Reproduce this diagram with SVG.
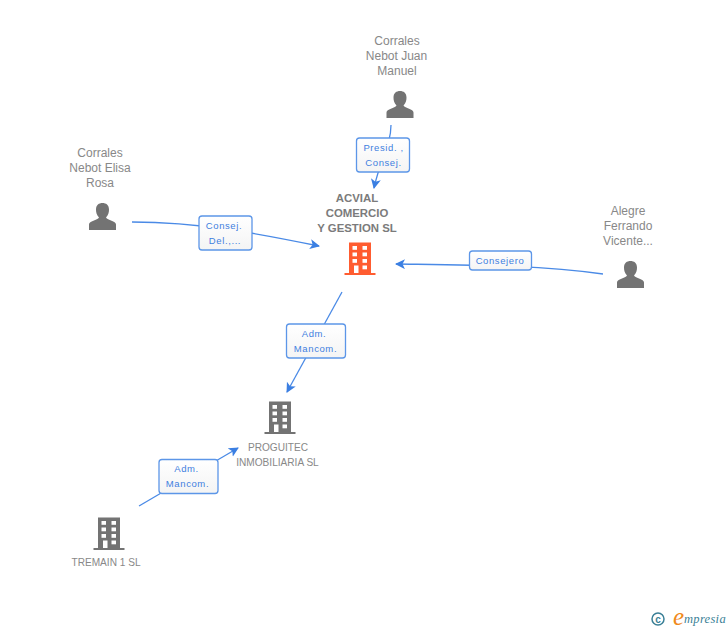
<svg xmlns="http://www.w3.org/2000/svg" width="728" height="630" viewBox="0 0 728 630">
<style>
text{font-family:"Liberation Sans",Arial,sans-serif;font-size:12px;fill:#888;text-anchor:middle}
.n{font-size:10.1px}
.b{font-size:11.4px;font-weight:bold;fill:#7b7b7b}
.l{font-size:9.5px;fill:#3f7fe0;letter-spacing:.6px}
.box{stroke:#5c96e8;stroke-width:1.3;fill:url(#f)}
.c{fill:none;stroke:#4a8ae6;stroke-width:1.3;marker-end:url(#a)}
.g{fill:#737373}.o{fill:#ff5c30}.w{fill:#fff}
</style>
<defs>
<marker id="a" markerUnits="userSpaceOnUse" markerWidth="12" markerHeight="12" refX="9" refY="5" orient="auto"><path d="M0 0L10 5L0 10L2.500 5Z" fill="#3b7fe2"/></marker>
<linearGradient id="f" x1="0" y1="0" x2="0" y2="1"><stop offset="0" stop-color="#fff"/><stop offset="1" stop-color="#f4f4f4"/></linearGradient>
<path id="p" d="M-13.500 14V8.500C-13.500 5 -5 4 -3.500 1.500C-6 -1 -6.500 -4 -6.500 -6.500C-6.500 -11 -3.500 -13 0 -13C3.500 -13 6.500 -11 6.500 -6.500C6.500 -4 6 -1 3.500 1.500C5 4 13.500 5 13.500 8.500V14Z"/>
<g id="t">
<path d="M-11 -15.500H11V15H15.500V17H-15.500V15H-11Z"/>
<g class="w"><rect x="-7.500" y="-12" width="4.500" height="3.800"/><rect x="2.500" y="-12" width="4.500" height="3.800"/><rect x="-7.500" y="-5.500" width="4.500" height="3.800"/><rect x="2.500" y="-5.500" width="4.500" height="3.800"/><rect x="-7.500" y="1" width="4.500" height="3.800"/><rect x="2.500" y="1" width="4.500" height="3.800"/><rect x="-6" y="7.500" width="4.500" height="7.500"/><rect x="2.500" y="7.500" width="4.500" height="3.800"/></g>
</g>
</defs>
<g id="connectors">
<path class="c" d="M391 125C391 145 380 160 374 188"/>
<path class="c" d="M132 222C200 222 260 234 319 246"/>
<path class="c" d="M603 274C540 265 470 265 396 264"/>
<path class="c" d="M342 292L287 392"/>
<path class="c" d="M139 506L238 448"/>
</g>
<g id="label-presid"><rect class="box" x="356.500" y="138" width="53" height="34" rx="3"/><text class="l" x="383.500" y="151">Presid. ,</text><text class="l" x="383.500" y="166">Consej.</text></g>
<g id="label-consej"><rect class="box" x="199" y="216" width="53" height="34" rx="3"/><text class="l" x="224" y="229">Consej.</text><text class="l" x="225" y="244">Del.,...</text></g>
<g id="label-consejero"><rect class="box" x="469.500" y="251" width="62" height="19" rx="3"/><text class="l" x="500" y="264">Consejero</text></g>
<g id="label-adm1"><rect class="box" x="286.500" y="324" width="59" height="34" rx="3"/><text class="l" x="314" y="337">Adm.</text><text class="l" x="315.500" y="352">Mancom.</text></g>
<g id="label-adm2"><rect class="box" x="159" y="459.500" width="59" height="34" rx="3"/><text class="l" x="186.500" y="472">Adm.</text><text class="l" x="187.500" y="487">Mancom.</text></g>
<g id="node-juan"><text x="397" y="45">Corrales</text><text x="396.500" y="60">Nebot Juan</text><text x="397" y="75">Manuel</text><use href="#p" class="g" x="400" y="104"/></g>
<g id="node-elisa"><text x="100" y="157">Corrales</text><text x="100" y="172">Nebot Elisa</text><text x="100" y="187">Rosa</text><use href="#p" class="g" x="102.500" y="216"/></g>
<g id="node-alegre"><text x="628" y="215">Alegre</text><text x="628" y="230">Ferrando</text><text x="628" y="245">Vicente...</text><use href="#p" class="g" x="630.500" y="274"/></g>
<g id="node-acvial"><text class="b" x="357" y="202">ACVIAL</text><text class="b" x="357" y="217">COMERCIO</text><text class="b" x="357" y="232">Y GESTION SL</text><use href="#t" class="o" x="360" y="258"/></g>
<g id="node-proguitec"><use href="#t" class="g" x="280" y="417"/><text class="n" x="278" y="451">PROGUITEC</text><text class="n" x="277.500" y="466">INMOBILIARIA SL</text></g>
<g id="node-tremain"><use href="#t" class="g" x="109" y="533"/><text class="n" x="106" y="566">TREMAIN 1 SL</text></g>
<g id="copyright"><circle cx="658" cy="619" r="6" fill="none" stroke="#3a7f96" stroke-width="1.500"/><text x="658" y="622.500" style="font-size:10px;font-weight:bold;fill:#3a7f96">c</text><text x="678.500" y="625" style="font-family:'Liberation Serif',serif;font-style:italic;font-size:25px;fill:#f08a1c">e</text><text x="705" y="623" style="font-family:'Liberation Serif',serif;font-style:italic;font-size:12.500px;fill:#3a7f96;letter-spacing:.3px">mpresia</text></g>
</svg>
